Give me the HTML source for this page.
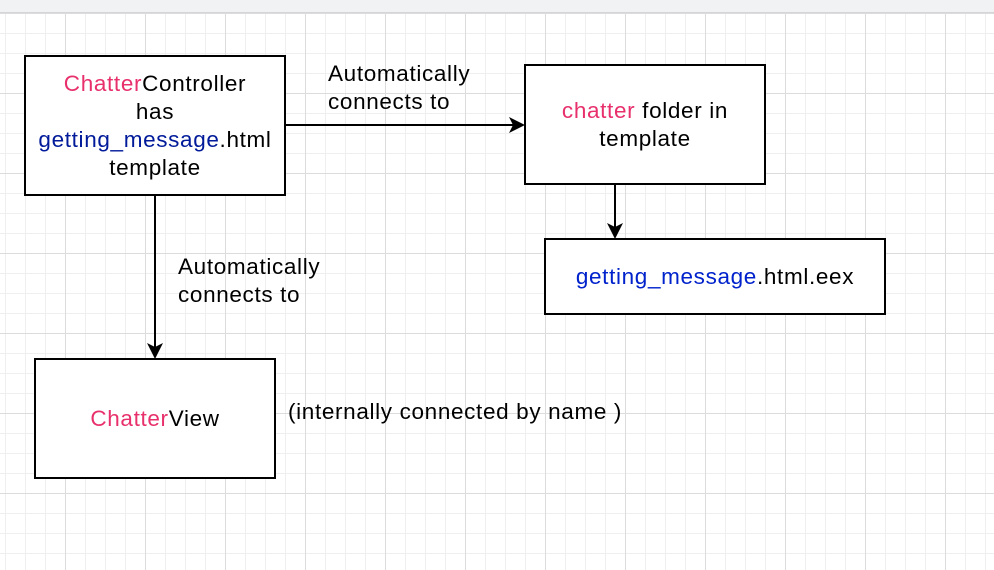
<!DOCTYPE html>
<html><head><style>
body{margin:0;width:994px;height:570px;overflow:hidden;background:#fff;font-family:"Liberation Sans",Arial,sans-serif;position:relative}
.top{position:absolute;left:0;top:0;width:994px;height:12px;background:#f1f2f4;border-bottom:1px solid #d5d5d8}
.grid{position:absolute;left:0;top:13px;width:994px;height:557px;
background-image:
linear-gradient(to right,#dcdcdc 1px,transparent 1px),
linear-gradient(to bottom,#dcdcdc 1px,transparent 1px),
linear-gradient(to right,#efefef 1px,transparent 1px),
linear-gradient(to bottom,#efefef 1px,transparent 1px);
background-size:80px 80px,80px 80px,20px 20px,20px 20px;
background-position:65px 0,0 0px,5px 0,0 0px}
.box{position:absolute;border:2px solid #000;background:#fff;box-sizing:border-box;display:flex;align-items:center;justify-content:center;text-align:center;font-size:22.5px;letter-spacing:0.65px;line-height:28px;color:#000}
.p{color:#e8306c}.b{color:#001a99}.b2{color:#0022cc}
.lbl{position:absolute;font-size:22.5px;letter-spacing:0.65px;line-height:28px;color:#000}
svg{position:absolute;left:0;top:0}
</style></head><body>
<div class="top"></div>
<div class="grid"></div>
<svg width="994" height="570">
<g stroke="#000" stroke-width="2" fill="none">
<line x1="285" y1="125" x2="516" y2="125"/>
<line x1="615" y1="184" x2="615" y2="230"/>
<line x1="155" y1="195" x2="155" y2="350"/>
</g>
<g fill="#000">
<polygon points="525,125 509,117 513,125 509,133"/>
<polygon points="615,239 607,223 615,227 623,223"/>
<polygon points="155,359 147,343 155,347 163,343"/>
</g>
</svg>
<div class="box" style="left:24px;top:55px;width:262px;height:141px"><div><span class="p">Chatter</span>Controller<br>has<br><span class="b">getting_message</span>.html<br>template</div></div>
<div class="box" style="left:524px;top:64px;width:242px;height:121px"><div><span class="p">chatter</span> folder in<br>template</div></div>
<div class="box" style="left:544px;top:238px;width:342px;height:77px"><div><span class="b2">getting_message</span>.html.eex</div></div>
<div class="box" style="left:34px;top:358px;width:242px;height:121px"><div><span class="p">Chatter</span>View</div></div>
<div class="lbl" style="left:328px;top:60px">Automatically<br>connects to</div>
<div class="lbl" style="left:178px;top:253px">Automatically<br>connects to</div>
<div class="lbl" style="left:288px;top:398px">(internally connected by name )</div>
</body></html>
